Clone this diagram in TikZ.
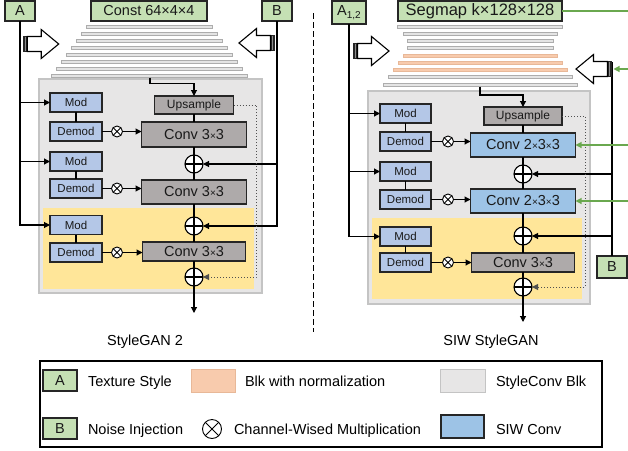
\documentclass[tikz,border=0pt]{standalone}
\usepackage{fontspec}
\setmainfont{Liberation Sans}
\usetikzlibrary{arrows.meta}

\definecolor{stylegreen}{HTML}{C5E0B4}
\definecolor{modblue}{HTML}{B4C7E7}
\definecolor{siwblue}{HTML}{9DC3E6}
\definecolor{convgray}{HTML}{AEAAAA}
\definecolor{blkgray}{HTML}{E7E6E6}
\definecolor{blkedge}{HTML}{C4C4C4}
\definecolor{yellowblk}{HTML}{FFE699}
\definecolor{normorange}{HTML}{F8CBAD}
\definecolor{normedge}{HTML}{E8B898}
\definecolor{barfill}{HTML}{E4E4E4}
\definecolor{baredge}{HTML}{ADADAD}
\definecolor{segline}{HTML}{6AA84F}
\definecolor{dotgray}{HTML}{505050}

% small multiplication sign used inside kernel sizes
\newcommand{\smalltimes}{{\fontsize{10}{10}\selectfont ×}}

% hollow block arrow with a dark bar at its tail; #1 tail point, #2 direction (1 right, -1 left)
\newcommand{\blockarrow}[2]{%
  \begin{scope}[shift={#1}, xscale=#2]
    \fill[black!85] (0,-8) rectangle (4.5,8);
    \draw[black!45, line width=0.6pt] (2.25,-7) -- (2.25,7);
    \draw[line width=1.1pt, fill=white, line join=miter]
      (4.5,-7.5) -- (18.5,-7.5) -- (18.5,-14.5) -- (36,0) -- (18.5,14.5) -- (18.5,7.5) -- (4.5,7.5) -- cycle;
  \end{scope}}

\begin{document}
\begin{tikzpicture}[x={(1pt,0)}, y={(0,-1pt)},
  every node/.style={inner sep=0pt, outer sep=0pt},
  box/.style={draw=black!85, line width=1.1pt, rectangle, align=center, text=black!90},
  tagbox/.style={box, fill=stylegreen, font=\fontsize{14.5}{16}\selectfont},
  modbox/.style={box, fill=modblue, minimum width=52, minimum height=19, font=\fontsize{11.5}{12}\selectfont},
  convbox/.style={box, fill=convgray, minimum width=105, font=\fontsize{14.5}{16}\selectfont},
  siwbox/.style={convbox, fill=siwblue},
  upbox/.style={box, fill=convgray, minimum width=79, minimum height=18, font=\fontsize{12}{13}\selectfont},
  addop/.style={circle, draw=black, line width=1.1pt, fill=white, minimum size=18,
    path picture={\draw[line width=1.1pt] (path picture bounding box.north) -- (path picture bounding box.south)
      (path picture bounding box.west) -- (path picture bounding box.east);}},
  mulop/.style={circle, draw=black, line width=0.9pt, fill=white, minimum size=#1,
    path picture={\draw[line width=0.9pt] (path picture bounding box.north west) -- (path picture bounding box.south east)
      (path picture bounding box.south west) -- (path picture bounding box.north east);}},
  mulop/.default=11,
  wire/.style={line width=1.1pt, draw=black},
  arr/.style={wire, -{Triangle[length=6pt, width=6pt]}},
  dotarr/.style={line width=1pt, draw=dotgray, dotted, -{Triangle[length=6pt, width=6pt]}},
  greenarr/.style={line width=1.1pt, draw=segline, -{Triangle[length=6pt, width=6pt]}},
  bar/.style={fill=barfill, draw=baredge, line width=0.6pt},
  normbar/.style={fill=normorange, draw=normedge, line width=0.6pt},
  legtext/.style={anchor=base west, font=\fontsize{14.5}{16}\selectfont},
  ttl/.style={anchor=base, font=\fontsize{14.5}{16}\selectfont},
]
\fill[white] (0,0) rectangle (628,450);
\useasboundingbox (0,0) rectangle (628,450);

% ---------------- StyleGAN 2 ----------------
\path[fill=blkgray, draw=blkedge, line width=1.2pt] (39,79) rectangle (262,293);
\fill[yellowblk] (43,208) rectangle (254,289);

\foreach \yy/\hw in {27/63,34/68,41/73,48/78,55/83,62/88,69/93,76/98}
  \path[bar] (149-\hw,\yy-1.5) rectangle (149+\hw,\yy+1.5);

\node[tagbox, minimum width=30, minimum height=20] (aL) at (20,11) {A};
\node[tagbox, minimum width=116, minimum height=20] (constL) at (149,11) {Const 64×4×4};
\node[tagbox, minimum width=30, minimum height=20] (bL) at (277,11) {B};

\node[upbox] (upL) at (194,105) {Upsample};
\node[convbox, minimum height=25] (cvL1) at (194,134.5) {Conv 3\smalltimes3};
\node[addop] (adL1) at (194,164) {};
\node[convbox, minimum height=24] (cvL2) at (194,192) {Conv 3\smalltimes3};
\node[addop] (adL2) at (194,226) {};
\node[convbox, minimum width=103, minimum height=19] (cvL3) at (194,251.5) {Conv 3\smalltimes3};
\node[addop] (adL3) at (194,277) {};
\coordinate (outL) at (194,313);
\coordinate (inL) at (150,77.5);

\node[modbox] (mdL1) at (76,102.5) {Mod};
\node[modbox] (dmL1) at (76,131.5) {Demod};
\node[modbox] (mdL2) at (76,161.5) {Mod};
\node[modbox] (dmL2) at (76,188.5) {Demod};
\node[modbox] (mdL3) at (76,225) {Mod};
\node[modbox] (dmL3) at (76,252.5) {Demod};
\node[mulop] (mxL1) at (117,131.5) {};
\node[mulop] (mxL2) at (117,188.5) {};
\node[mulop] (mxL3) at (117,252.5) {};

\draw[arr] (aL.south) |- (mdL3.west);
\draw[arr] (aL.south |- mdL1.west) -- (mdL1.west);
\draw[arr] (aL.south |- mdL2.west) -- (mdL2.west);
\draw[arr] (bL.south) |- (adL2.east);
\draw[arr] (bL.south |- adL1.east) -- (adL1.east);

\draw[arr] (inL) -- ++(0,6) -| (upL.north);
\draw[wire] (upL.south) -- (cvL1.north) (cvL1.south) -- (adL1.north)
  (adL1.south) -- (cvL2.north) (cvL2.south) -- (adL2.north)
  (adL2.south) -- (cvL3.north) (cvL3.south) -- (adL3.north);
\draw[arr] (adL3.south) -- (outL);
\draw[dotarr] (upL.east) -- ++(23,0) |- (adL3.east);

\foreach \i in {1,2,3} {
  \draw[wire] (mdL\i.south) -- (dmL\i.north);
  \draw[wire] (dmL\i.east) -- (mxL\i.west);
  \draw[arr] (mxL\i.east) -- (mxL\i.east -| cvL\i.west);
}

\blockarrow{(22.7,44)}{1}
\blockarrow{(275,43)}{-1}

% ---------------- separator ----------------
\coordinate (sepA) at (313,13);
\coordinate (sepB) at (313,332);
\draw[line width=0.9pt, dash pattern=on 6pt off 3pt] (sepA) -- (sepB);

% ---------------- SIW StyleGAN ----------------
\coordinate (edgeR) at (628,0);
\path[fill=blkgray, draw=blkedge, line width=1.2pt] (368,91) rectangle (590,304);
\fill[yellowblk] (372,218) rectangle (582,299);

\foreach \yy/\hw/\sty in {27/82.5/bar,34/77/bar,41/73/bar,48/73/bar,56/77/normbar,63/82/normbar,70/87/normbar,77/92/bar,85/97/bar}
  \path[\sty] (480-\hw,\yy-1.5) rectangle (480+\hw,\yy+1.5);

\node[tagbox, minimum width=34, minimum height=23] (aR) at (349,12.5) {A\raisebox{-3pt}{\fontsize{10}{10}\selectfont 1,2}};
\node[tagbox, minimum width=164, minimum height=20, font=\fontsize{16.5}{18}\selectfont] (segR) at (480,11) {Segmap k×128×128};
\node[tagbox, minimum width=30, minimum height=22] (bR) at (612,267) {B};

\node[upbox, minimum width=78] (upR) at (523,116) {Upsample};
\node[siwbox, minimum height=24] (cvR1) at (523,145) {Conv 2\smalltimes3\smalltimes3};
\node[addop] (adR1) at (523,174) {};
\node[siwbox, minimum height=24] (cvR2) at (523,201) {Conv 2\smalltimes3\smalltimes3};
\node[addop] (adR2) at (523,236) {};
\node[convbox, minimum width=103, minimum height=19] (cvR3) at (523,262.5) {Conv 3\smalltimes3};
\node[addop] (adR3) at (523,287) {};
\coordinate (outR) at (523,322);
\coordinate (inR) at (480,86.5);
\coordinate (bTopR) at (612,62);
\coordinate (nzR) at (613.5,69);

\node[modbox, minimum width=51] (mdR1) at (405.5,113.5) {Mod};
\node[modbox, minimum width=51] (dmR1) at (405.5,141.5) {Demod};
\node[modbox, minimum width=51] (mdR2) at (405.5,171.5) {Mod};
\node[modbox, minimum width=51] (dmR2) at (405.5,199.5) {Demod};
\node[modbox, minimum width=51] (mdR3) at (405.5,236.5) {Mod};
\node[modbox, minimum width=51] (dmR3) at (405.5,262.5) {Demod};
\node[mulop] (mxR1) at (448,141.5) {};
\node[mulop] (mxR2) at (448,199.5) {};
\node[mulop] (mxR3) at (448,262.5) {};

\draw[arr] (aR.south) |- (mdR3.west);
\draw[arr] (aR.south |- mdR1.west) -- (mdR1.west);
\draw[arr] (aR.south |- mdR2.west) -- (mdR2.west);
\draw[wire] (bR.north) -- (bTopR);
\draw[arr] (bR.north |- adR1.east) -- (adR1.east);
\draw[arr] (bR.north |- adR2.east) -- (adR2.east);

\draw[arr] (inR) -- ++(0,8.5) -| (upR.north);
\draw[wire] (upR.south) -- (cvR1.north) (cvR1.south) -- (adR1.north)
  (adR1.south) -- (cvR2.north) (cvR2.south) -- (adR2.north)
  (adR2.south) -- (cvR3.north) (cvR3.south) -- (adR3.north);
\draw[arr] (adR3.south) -- (outR);
\draw[dotarr] (upR.east) -- ++(23,0) |- (adR3.east);

\foreach \i in {1,2,3} {
  \draw[wire] (mdR\i.south) -- (dmR\i.north);
  \draw[wire] (dmR\i.east) -- (mxR\i.west);
  \draw[arr] (mxR\i.east) -- (mxR\i.east -| cvR\i.west);
}

\draw[segline, line width=1.1pt] (segR.east) -- (segR.east -| edgeR);
\draw[greenarr] (edgeR |- cvR1.east) -- (cvR1.east);
\draw[greenarr] (edgeR |- cvR2.east) -- (cvR2.east);
\draw[greenarr] (edgeR |- nzR) -- (nzR);

\blockarrow{(353,51)}{1}
\blockarrow{(612,69)}{-1}

% ---------------- titles ----------------
\node[ttl] (ttlL) at (145,345) {StyleGAN 2};
\node[ttl] (ttlR) at (491,345) {SIW StyleGAN};

% ---------------- legend ----------------
\node[draw=black, line width=1.3pt, minimum width=562, minimum height=86] (legend) at (321,404) {};
\node[tagbox, minimum width=34, minimum height=21] (legA) at (60,380.5) {A};
\node[legtext] (legAt) at (88,386) {Texture Style};
\node[box, draw=normedge, line width=0.8pt, fill=normorange, minimum width=44, minimum height=23] (legN) at (213,380.5) {};
\node[legtext] (legNt) at (245,386) {Blk with normalization};
\node[box, draw=blkedge, line width=0.8pt, fill=blkgray, minimum width=45, minimum height=23] (legS) at (462.5,380.5) {};
\node[legtext] (legSt) at (496,386) {StyleConv Blk};
\node[tagbox, minimum width=34, minimum height=21] (legB) at (60,428.5) {B};
\node[legtext] (legBt) at (88,434) {Noise Injection};
\node[mulop=19] (legM) at (212,429) {};
\node[legtext] (legMt) at (234,434) {Channel-Wised Multiplication};
\node[box, fill=siwblue, minimum width=43, minimum height=23] (legC) at (462.5,426.5) {};
\node[legtext] (legCt) at (496,434) {SIW Conv};
\end{tikzpicture}
\end{document}
